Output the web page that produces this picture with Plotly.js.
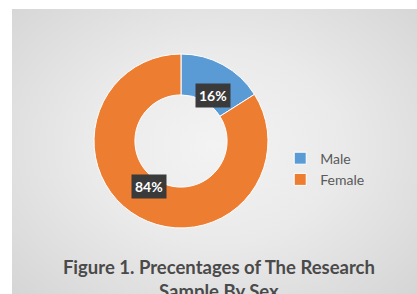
<!DOCTYPE html>
<html>
<head>
<meta charset="utf-8">
<script src="https://cdn.plot.ly/plotly-3.0.1.min.js"></script>
<style>
  html, body { margin: 0; padding: 0; background: #ffffff; }
  #wrap { position: relative; width: 417px; height: 294px; overflow: hidden; }
  #panel { position: absolute; left: 12px; top: 9px; width: 405px; height: 285px;
           background: radial-gradient(ellipse 70% 75% at 50% 48%, #f3f3f3 0%, #eaeaea 45%, #d5d5d5 100%); }
  #chart { position: absolute; left: 0; top: 0; width: 417px; height: 294px; }
</style>
</head>
<body>
<div id="wrap">
  <div id="panel"></div>
  <div id="chart"></div>
</div>
<script>
const categories = ["Male", "Female"];
const values = [16, 84];
const pctLabels = ["16%", "84%"];
const colors = ["#5b9bd5", "#ed7d31"];

const W = 417, H = 294;
const dom = { x: [0.2254, 0.6427], y: [0.2245, 0.8163] };
const hole = 0.53;

// label positions at mid-ring, mid-angle of each slice (clockwise from top)
const total = values.reduce((a, b) => a + b, 0);
const cxp = (dom.x[0] + dom.x[1]) / 2, cyp = (dom.y[0] + dom.y[1]) / 2;
const Rpx = Math.min((dom.x[1] - dom.x[0]) * W, (dom.y[1] - dom.y[0]) * H) / 2;
const rMid = Rpx * (1 + hole) / 2;
let acc = 0;
const annotations = values.map((v, i) => {
  const mid = (acc + v / 2) / total * 2 * Math.PI;
  acc += v;
  return {
    x: cxp + rMid * Math.sin(mid) / W,
    y: cyp + rMid * Math.cos(mid) / H,
    xref: "paper", yref: "paper",
    text: "<b>" + pctLabels[i] + "</b>",
    showarrow: false,
    font: { family: "Lato, 'Open Sans', sans-serif", size: 14, color: "#ffffff" },
    bgcolor: "#3a3a3a",
    borderpad: 3
  };
});

const data = [{
  type: "pie",
  labels: categories,
  values: values,
  hole: hole,
  sort: false,
  direction: "clockwise",
  rotation: 0,
  textinfo: "none",
  hoverinfo: "label+percent",
  marker: { colors: colors, line: { color: "#ffffff", width: 1 } },
  domain: dom
}];

const layout = {
  width: W, height: H,
  margin: { l: 0, r: 0, t: 0, b: 0 },
  paper_bgcolor: "rgba(0,0,0,0)",
  plot_bgcolor: "rgba(0,0,0,0)",
  showlegend: true,
  legend: {
    x: 0.672, y: 0.515, xanchor: "left", yanchor: "top",
    itemwidth: 30,
    font: { family: "Lato, 'Open Sans', sans-serif", size: 14, color: "#595959" },
    bgcolor: "rgba(0,0,0,0)"
  },
  title: {
    text: "<b>Figure 1. Precentages of The Research</b><br><b>Sample By Sex</b>",
    x: 0.525, xanchor: "center",
    yref: "container", y: 0.067, yanchor: "top",
    font: { family: "Lato, 'Open Sans', sans-serif", size: 18.5, color: "#4a4a4a" }
  },
  annotations: annotations
};

Plotly.newPlot("chart", data, layout, { displayModeBar: false, staticPlot: true });
</script>
</body>
</html>
